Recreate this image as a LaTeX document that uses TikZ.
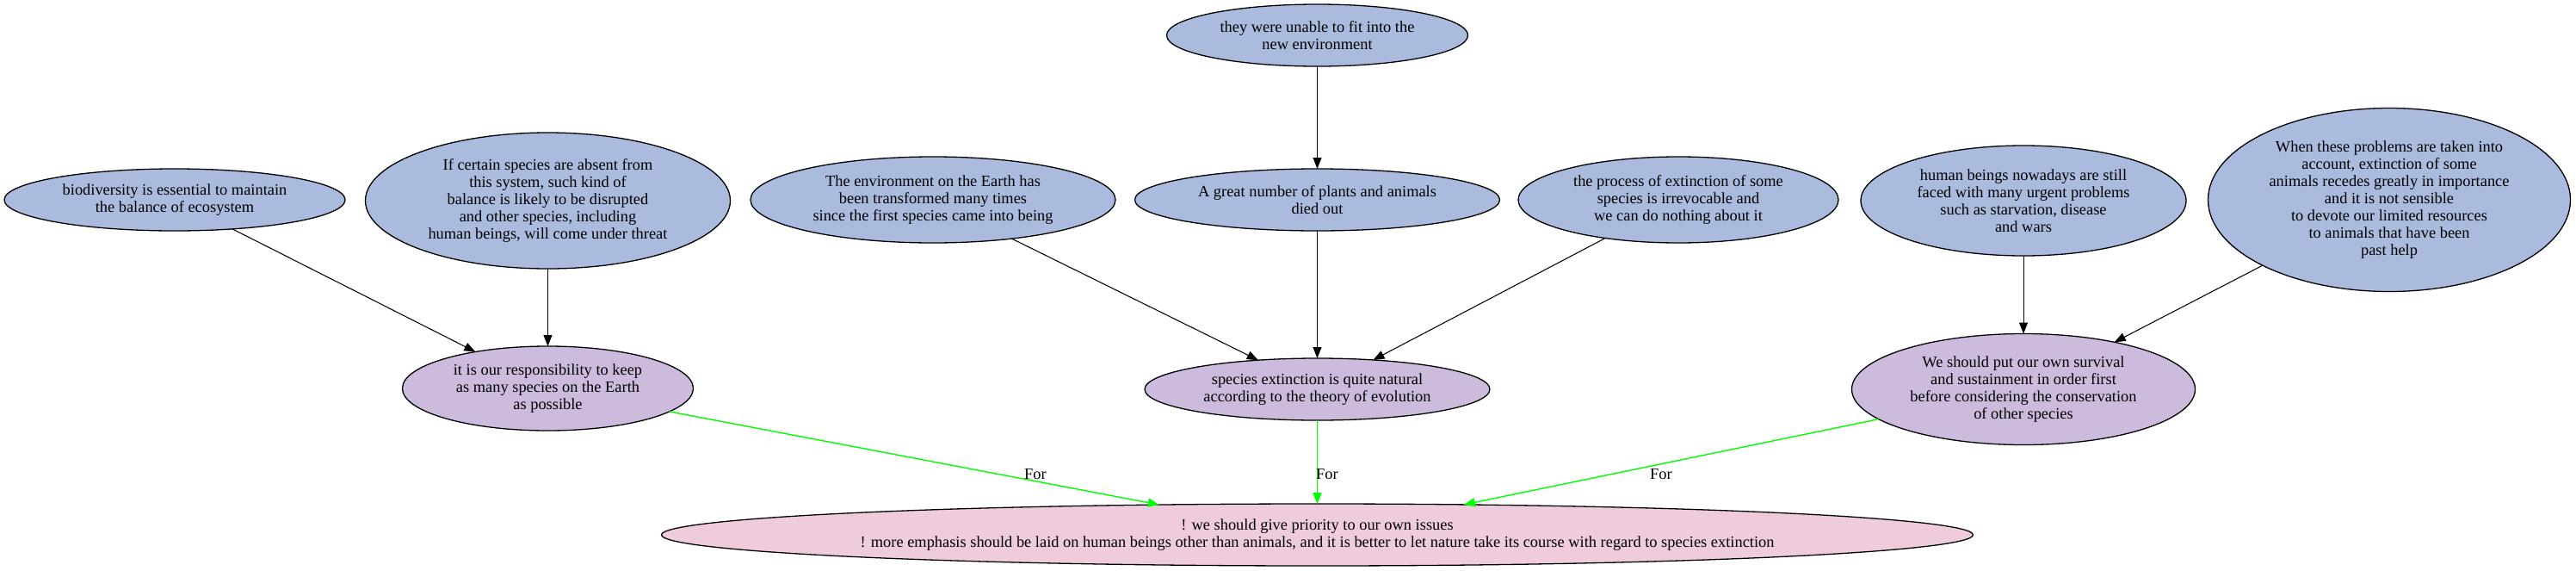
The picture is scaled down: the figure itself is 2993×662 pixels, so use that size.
\documentclass[tikz,border=0pt]{standalone}
\usepackage{fontspec}
\setmainfont{Liberation Serif}
\usetikzlibrary{shapes.geometric,arrows.meta}
\definecolor{premfill}{RGB}{170,187,221}
\definecolor{claimfill}{RGB}{204,187,221}
\definecolor{conclfill}{RGB}{238,204,221}
\begin{document}
\begin{tikzpicture}[x=1pt,y=-1pt,
  base/.style={ellipse, draw=black, line width=1.3pt, inner sep=0pt, outer sep=0pt},
  prem/.style={base, fill=premfill},
  claim/.style={base, fill=claimfill},
  concl/.style={base, fill=conclfill},
  txt/.style={align=center, font=\fontsize{18.4}{20}\selectfont, inner sep=0pt},
  arr/.style={-{Triangle[length=13pt,width=10pt]}, line width=1.05pt, black},
  garr/.style={-{Triangle[length=13pt,width=10pt]}, line width=1.4pt, green}
]
\useasboundingbox (0,0) rectangle (2993,662);
% rank 0
\node[prem, minimum width=350pt, minimum height=72pt,
  label={[txt]center:{they were unable to fit into the\\new environment}}] (they) at (1530.5,41) {};
% rank 1
\node[prem, minimum width=396pt, minimum height=72pt,
  label={[txt]center:{biodiversity is essential to maintain\\the balance of ecosystem}}] (bio) at (203,232) {};
\node[prem, minimum width=424pt, minimum height=158pt,
  label={[txt]center:{If certain species are absent from\\this system, such kind of\\balance is likely to be disrupted\\and other species, including\\human beings, will come under threat}}] (ifc) at (636.5,233) {};
\node[prem, minimum width=424pt, minimum height=100pt,
  label={[txt]center:{The environment on the Earth has\\been transformed many times\\since the first species came into being}}] (env) at (1084,232) {};
\node[prem, minimum width=424pt, minimum height=72pt,
  label={[txt]center:{A great number of plants and animals\\died out}}] (great) at (1530.5,232) {};
\node[prem, minimum width=372pt, minimum height=100pt,
  label={[txt]center:{the process of extinction of some\\species is irrevocable and\\we can do nothing about it}}] (proc) at (1950,232) {};
\node[prem, minimum width=378pt, minimum height=128pt,
  label={[txt]center:{human beings nowadays are still\\faced with many urgent problems\\such as starvation, disease\\and wars}}] (hum) at (2351,233) {};
\node[prem, minimum width=421pt, minimum height=213pt,
  label={[txt]center:{When these problems are taken into\\account, extinction of some\\animals recedes greatly in importance\\and it is not sensible\\to devote our limited resources\\to animals that have been\\past help}}] (when) at (2776,232) {};
% rank 2
\node[claim, minimum width=338pt, minimum height=98pt,
  label={[txt]center:{it is our responsibility to keep\\as many species on the Earth\\as possible}}] (resp) at (636.5,451) {};
\node[claim, minimum width=401pt, minimum height=72pt,
  label={[txt]center:{species extinction is quite natural\\according to the theory of evolution}}] (nat) at (1530.5,452) {};
\node[claim, minimum width=399pt, minimum height=129pt,
  label={[txt]center:{We should put our own survival\\and sustainment in order first\\before considering the conservation\\of other species}}] (we) at (2351,452) {};
% rank 3
\node[concl, minimum width=1524pt, minimum height=72pt,
  label={[txt]center:{! we should give priority to our own issues\\! more emphasis should be laid on human beings other than animals, and it is better to let nature take its course with regard to species extinction}}] (concl) at (1530.5,621) {};
% edges
\draw[arr] (they) -- (great);
\draw[arr] (bio) -- (resp);
\draw[arr] (ifc) -- (resp);
\draw[arr] (env) -- (nat);
\draw[arr] (great) -- (nat);
\draw[arr] (proc) -- (nat);
\draw[arr] (hum) -- (we);
\draw[arr] (when) -- (we);
\draw[garr] (resp) -- (concl);
\draw[garr] (nat) -- (concl);
\draw[garr] (we) -- (concl);
% edge labels
\node[txt] (f1) at (1203,551) {For};
\node[txt] (f2) at (1542,551) {For};
\node[txt] (f3) at (1930,551) {For};
\end{tikzpicture}
\end{document}
